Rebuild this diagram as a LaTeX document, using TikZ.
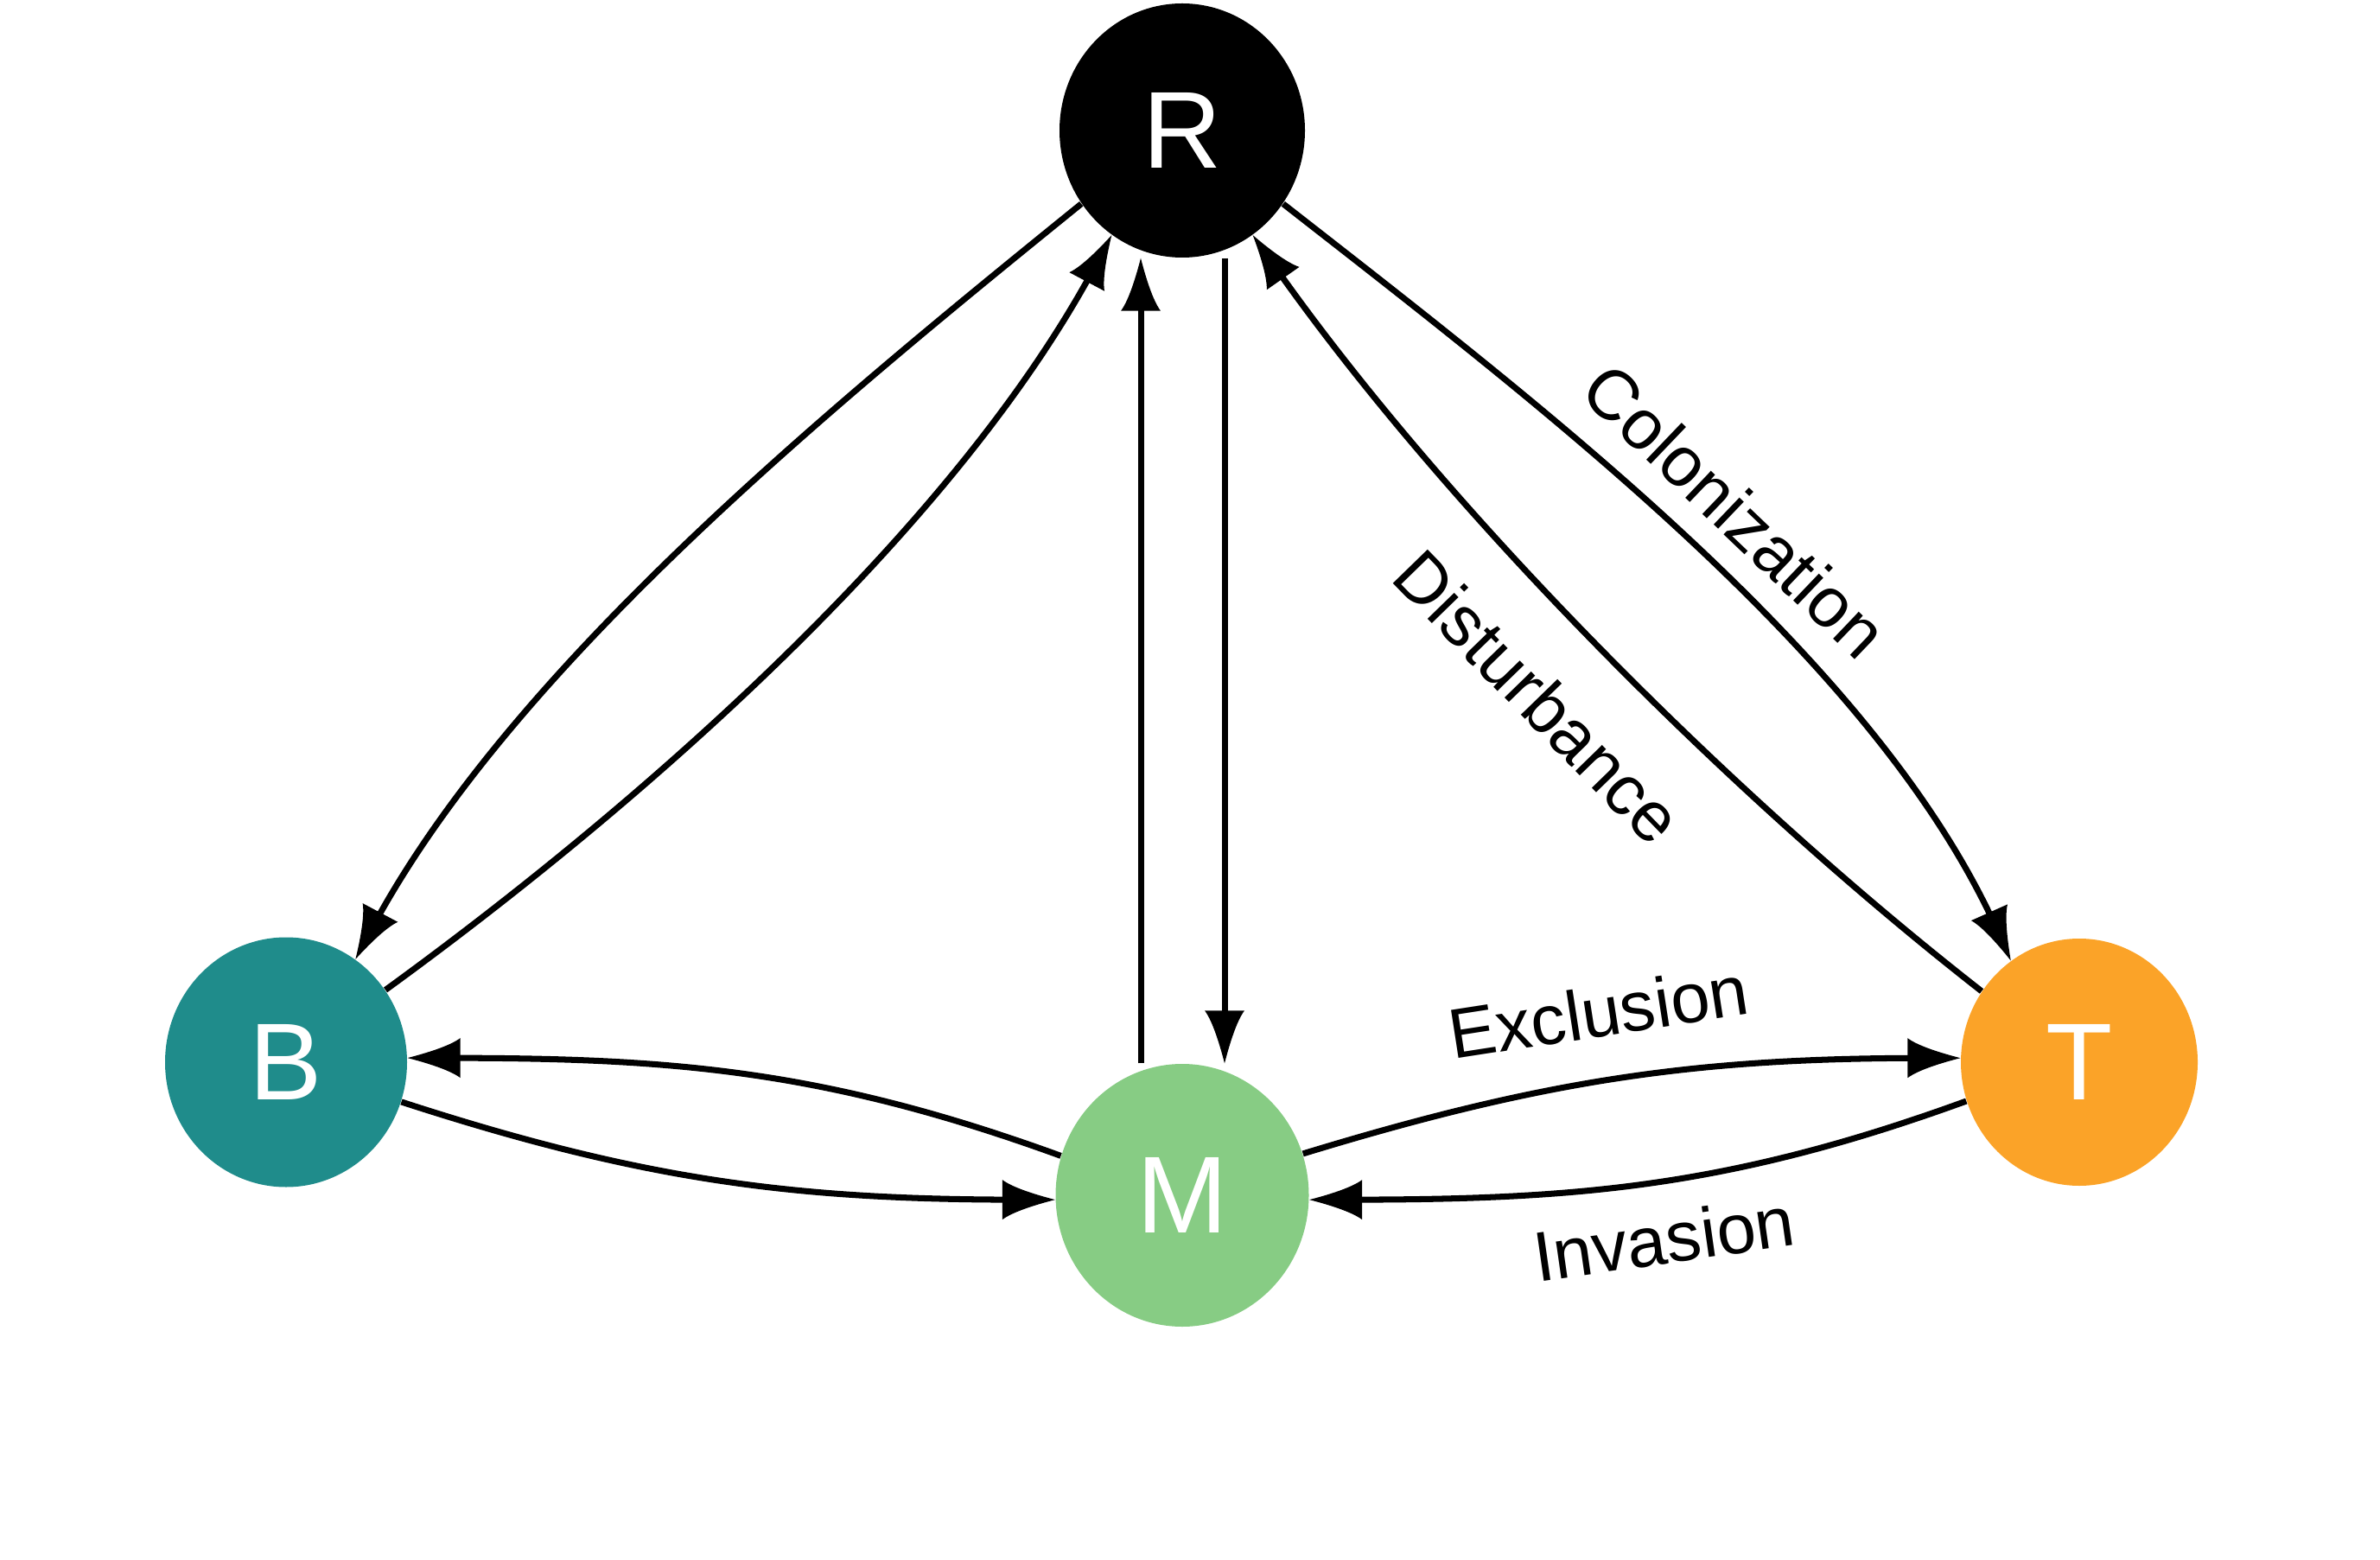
\documentclass[tikz,border=0pt]{standalone}
\usepackage{fontspec}
\setmainfont{Liberation Sans}
\usetikzlibrary{shapes.geometric,arrows.meta}

\definecolor{bcol}{HTML}{1F8C8B}
\definecolor{mcol}{HTML}{87CC84}
\definecolor{tcol}{HTML}{FBA328}

\pgfdeclarearrow{
  name = Spike,
  parameters = {\the\pgfarrowlength,\the\pgfarrowwidth},
  setup code = {
    \pgfarrowssettipend{0pt}
    \pgfarrowssetlineend{-.6\pgfarrowlength}
    \pgfarrowssetbackend{-\pgfarrowlength}
    \pgfarrowshullpoint{0pt}{0pt}
    \pgfarrowshullpoint{-\pgfarrowlength}{.5\pgfarrowwidth}
    \pgfarrowshullpoint{-\pgfarrowlength}{-.5\pgfarrowwidth}
    \pgfarrowssavethe\pgfarrowlength
    \pgfarrowssavethe\pgfarrowwidth
  },
  drawing code = {
    \pgfpathmoveto{\pgfpointorigin}
    \pgfpathcurveto{\pgfpoint{-.35\pgfarrowlength}{.12\pgfarrowwidth}}
                   {\pgfpoint{-.8\pgfarrowlength}{.3\pgfarrowwidth}}
                   {\pgfpoint{-\pgfarrowlength}{.5\pgfarrowwidth}}
    \pgfpathlineto{\pgfpoint{-\pgfarrowlength}{-.5\pgfarrowwidth}}
    \pgfpathcurveto{\pgfpoint{-.8\pgfarrowlength}{-.3\pgfarrowwidth}}
                   {\pgfpoint{-.35\pgfarrowlength}{-.12\pgfarrowwidth}}
                   {\pgfpointorigin}
    \pgfpathclose
    \pgfusepathqfill
  },
  defaults = {length=6.1mm, width=4.6mm}
}

\begin{document}
\begin{tikzpicture}[
  every node/.style={font=\fontsize{23.2}{28}\selectfont},
  state/.style={ellipse, inner sep=0pt, text=white,
                font=\fontsize{36}{40}\selectfont},
  flow/.style={-Spike, line width=2pt},
  diag/.style={flow, looseness=.8}
]

\useasboundingbox (0,0) rectangle (27.54,-18.05);

\node[state, fill=black, minimum width=2.84cm, minimum height=2.94cm] (R) at (13.68,-1.51) {R};
\node[state, fill=bcol, minimum width=2.80cm, minimum height=2.89cm] (B) at (3.31,-12.29) {B};
\node[state, fill=mcol, minimum width=2.93cm, minimum height=3.04cm] (M) at (13.68,-13.83) {M};
\node[state, fill=tcol, minimum width=2.74cm, minimum height=2.86cm] (T) at (24.06,-12.29) {T};

\draw[diag] (R.216) to[out=219, in=62] (B.56);
\draw[diag] (B.36) to[out=36, in=242] (R.236);
\draw[diag] (R.324) to[out=-38, in=114]
  node[pos=.505, sloped, above=5pt] {Colonization} (T.124);
\draw[diag] (T.144) to[out=142, in=305]
  node[pos=.495, sloped, below=13pt] {Disturbance} (R.304);
\draw[flow] ([xshift=-4.8mm]M.north) -- ([xshift=-4.8mm]R.south);
\draw[flow] ([xshift=4.9mm]R.south) -- ([xshift=4.9mm]M.north);
\draw[flow] (M.162) to[out=160, in=0] (B.2);
\draw[flow] (B.-19) to[out=-18, in=180] (M.182);
\draw[flow] (M.19) to[out=17, in=180]
  node[pos=.47, sloped, above=10pt] {Exclusion} (T.178);
\draw[flow] (T.199) to[out=200, in=0]
  node[pos=.48, sloped, below=6pt] {Invasion} (M.-2);

\end{tikzpicture}
\end{document}
